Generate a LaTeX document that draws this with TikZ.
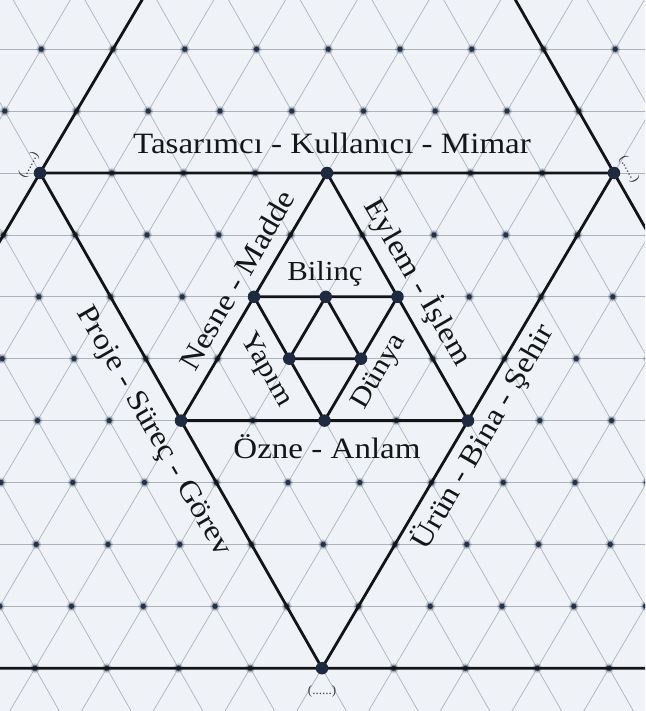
\documentclass[tikz,border=0pt]{standalone}
\usepackage{fontspec}
\setmainfont{Liberation Serif}[FakeStretch=1.12]
\newfontfamily\phfont{Liberation Serif}
\definecolor{paper}{HTML}{EFF3F8}
\definecolor{gridc}{HTML}{AEB2BB}
\definecolor{dotc}{HTML}{22324A}
\definecolor{ink}{HTML}{121416}
\definecolor{txt}{HTML}{161616}
\begin{document}
\begin{tikzpicture}[x=1pt,y=-1pt,
  gridline/.style={draw=gridc, line width=0.7pt},
  fig/.style={draw=ink, line width=2.8pt, line join=round, line cap=round},
  bigdot/.style={circle, fill=dotc!85!black, minimum size=12.5pt, inner sep=0pt},
  lbl/.style={text=txt, font=\fontsize{29.5}{32}\selectfont, inner sep=0pt},
  ilbl/.style={text=txt, font=\fontsize{27.5}{30}\selectfont, inner sep=0pt},
  ph/.style={text=txt!85, font=\phfont\fontsize{13}{15}\selectfont, inner sep=0pt}]
\useasboundingbox (0,0) rectangle (645,711);
\fill[paper] (0,0) rectangle (645,711);
\begin{scope}
\clip (0,0) rectangle (645,711);
\begin{scope}[shift={(40,173)}, x={(71.75pt,0pt)}, y={(35.25pt,-61.9pt)}]
  % lattice lines
  \foreach \k in {-3,...,9} \draw[gridline] (-12,\k) -- (16,\k);
  \foreach \i in {-10,...,12} \draw[gridline] (\i,-4) -- (\i,10);
  \foreach \c in {-5,...,16} \draw[gridline] (\c+4,-4) -- (\c-10,10);
  % lattice dots
  \foreach \i in {-8,...,12}{
    \foreach \k in {-3,...,9}{
      \fill[dotc, opacity=0.18] (\i,\k) circle[radius=5pt];
      \fill[dotc, opacity=0.35] (\i,\k) circle[radius=3.6pt];
      \fill[dotc] (\i,\k) circle[radius=2.6pt];
    }
  }
  % figure vertices
  \coordinate (U1) at (8,-8);
  \coordinate (U2) at (-8,8);
  \coordinate (U3) at (8,8);
  \coordinate (A) at (0,0);
  \coordinate (B) at (8,0);
  \coordinate (C) at (0,8);
  \coordinate (M1) at (4,0);
  \coordinate (M2) at (0,4);
  \coordinate (M3) at (4,4);
  \coordinate (I1) at (2,2);
  \coordinate (I2) at (4,2);
  \coordinate (I3) at (2,4);
  \coordinate (T1) at (3,2);
  \coordinate (T2) at (2,3);
  \coordinate (T3) at (3,3);
  % figure lines
  \draw[fig] (U1) -- (U2) -- (U3) -- cycle;
  \draw[fig] (A) -- (B) -- (C) -- cycle;
  \draw[fig] (M1) -- (M2) -- (M3) -- cycle;
  \draw[fig] (I1) -- (I2) -- (I3) -- cycle;
  \draw[fig] (T1) -- (T2) -- (T3) -- cycle;
  % vertex dots
  \foreach \v in {A,B,C,M1,M2,M3,I1,I2,I3,T1,T2,T3}
    \node[bigdot] (d\v) at (\v) {};
\end{scope}
\end{scope}
% labels
\node[lbl, anchor=base] (tasarimci) at (332,154) {Tasarımcı - Kullanıcı - Mimar};
\node[lbl, rotate=-60] (proje) at (153,432) {Proje - Süreç - Görev};
\node[lbl, rotate=60] (urun) at (483,437) {Ürün - Bina - Şehir};
\node[lbl, rotate=60] (nesne) at (237,280) {Nesne - Madde};
\node[lbl, rotate=-60] (eylem) at (418,282) {Eylem - İşlem};
\node[ilbl, anchor=base] (bilinc) at (325,280) {Bilinç};
\node[ilbl, rotate=-60] (yapim) at (266,370) {Yapım};
\node[ilbl, rotate=60] (dunya) at (380,372) {Dünya};
\node[lbl, anchor=base] (ozne) at (327,458) {Özne - Anlam};
\node[ph, rotate=60] (phl) at (29,165) {(......)};
\node[ph, rotate=-60] (phr) at (629,169) {(......)};
\node[ph] (phb) at (322,691) {(......)};
\end{tikzpicture}
\end{document}
